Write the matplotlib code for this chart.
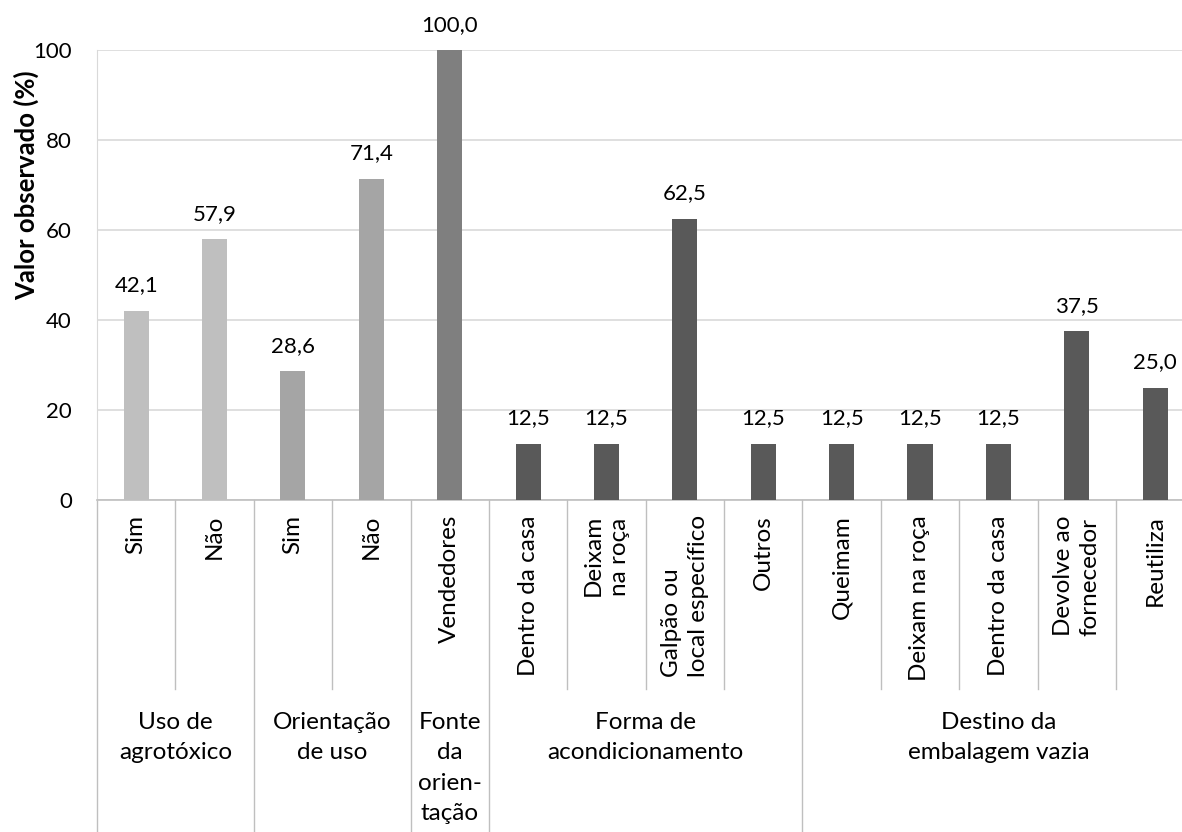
import numpy as np
import matplotlib.pyplot as plt
from matplotlib.transforms import blended_transform_factory

plt.rcParams['font.family'] = ['Lato', 'DejaVu Sans']

leaf_labels = ['Sim', 'Não', 'Sim', 'Não', 'Vendedores',
               'Dentro da casa', 'Deixam\nna roça', 'Galpão ou\nlocal específico', 'Outros',
               'Queimam', 'Deixam na roça', 'Dentro da casa', 'Devolve ao\nfornecedor', 'Reutiliza']
values = [42.1, 57.9, 28.6, 71.4, 100.0, 12.5, 12.5, 62.5, 12.5, 12.5, 12.5, 12.5, 37.5, 25.0]
groups = ['Uso de\nagrotóxico', 'Orientação\nde uso', 'Fonte\nda\norien-\ntação',
          'Forma de\nacondicionamento', 'Destino da\nembalagem vazia']
group_sizes = [2, 2, 1, 4, 5]
group_colors = ['#BFBFBF', '#A5A5A5', '#7F7F7F', '#595959', '#595959']

W, H = 1182, 832
fig = plt.figure(figsize=(W / 100, H / 100), dpi=100)
n = len(values)
cat_w = 78.38
ax = fig.add_axes([97 / W, (H - 500) / H, n * cat_w / W, 450 / H])

colors = []
for c, s in zip(group_colors, group_sizes):
    colors += [c] * s
x = np.arange(n) + 0.5
ax.bar(x, values, width=0.32, color=colors, zorder=3)
for xi, v in zip(x, values):
    ax.annotate(f'{v:.1f}'.replace('.', ','), (xi, v), xytext=(0, 11), textcoords='offset points',
                ha='center', va='bottom', fontsize=16)

ax.set_xlim(0, n)
ax.set_ylim(0, 100)
ax.set_yticks(range(0, 101, 20))
ax.yaxis.grid(True, color='#D9D9D9', lw=1.2, zorder=0)
ax.tick_params(axis='y', length=0, pad=18, labelsize=16)
ax.set_xticks([])
for s in ['top', 'right']:
    ax.spines[s].set_visible(False)
ax.spines['left'].set_color('#D9D9D9')
ax.spines['bottom'].set_color('#BFBFBF')
ax.spines['bottom'].set_linewidth(1.2)

tr = blended_transform_factory(ax.transData, ax.transAxes)
ypx = lambda p: (500 - p) / 450

for xi, lab in zip(x, leaf_labels):
    ax.text(xi, ypx(515), lab, transform=tr, rotation=90, ha='center', va='top',
            multialignment='left', fontsize=17.5, linespacing=1.35)

bounds = np.cumsum([0] + group_sizes)
for i in range(len(groups)):
    for k in range(bounds[i] + 1, bounds[i + 1]):
        ax.plot([k, k], [0, ypx(689)], transform=tr, color='#BFBFBF', lw=1, clip_on=False)
    ax.plot([bounds[i], bounds[i]], [0, ypx(H + 5)], transform=tr, color='#BFBFBF', lw=1, clip_on=False)
    ax.text((bounds[i] + bounds[i + 1]) / 2, ypx(712), groups[i], transform=tr, ha='center',
            va='top', fontsize=17.5, linespacing=1.55)

fig.text(26 / W, 1 - 185 / H, 'Valor observado (%)', rotation=90, ha='center', va='center',
         fontsize=18.5, fontweight='bold')

fig.savefig('out.png', dpi=100)
